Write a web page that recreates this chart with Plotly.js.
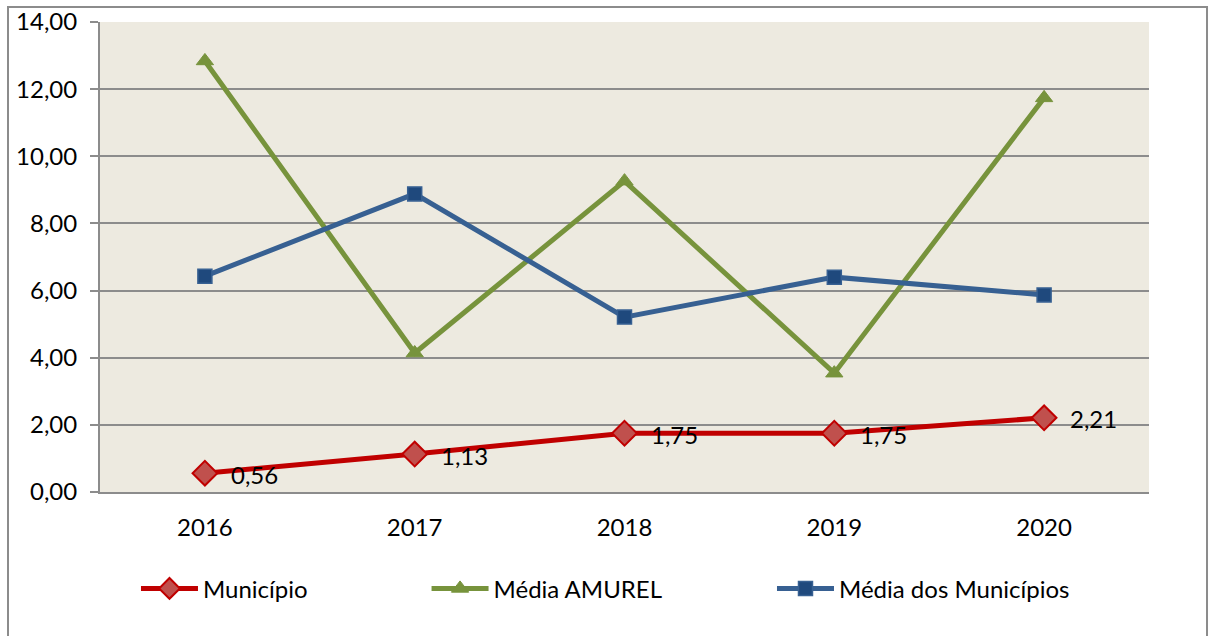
<!DOCTYPE html>
<html><head><meta charset="utf-8">
<script src="https://cdn.plot.ly/plotly-3.0.1.min.js"></script>
<style>html,body{margin:0;padding:0;background:#fff}#chart{width:1214px;height:636px}</style>
</head><body><div id="chart"></div>
<script>
const years = ['2016','2017','2018','2019','2020'];
const municipio = [0.56, 1.13, 1.75, 1.75, 2.21];
const mediaAmurel = [12.84, 4.14, 9.26, 3.54, 11.74];
const mediaMunicipios = [6.43, 8.88, 5.21, 6.40, 5.87];
const seriesNames = ['Município', 'Média AMUREL', 'Média dos Municípios'];
const yTicks = [0, 2, 4, 6, 8, 10, 12, 14];

const FONT = 'Lato, "Liberation Sans", sans-serif';

const traces = [
  {
    x: years, y: mediaAmurel, name: seriesNames[1], type: 'scatter', mode: 'lines+markers',
    line: {color: '#77933C', width: 5},
    marker: {symbol: 'triangle-up', size: 15, color: '#77933C', line: {color: '#77933C', width: 1}},
    legend: 'legend2', hoverinfo: 'x+y'
  },
  {
    x: years, y: mediaMunicipios, name: seriesNames[2], type: 'scatter', mode: 'lines+markers',
    line: {color: '#376092', width: 5},
    marker: {symbol: 'square', size: 14, color: '#1F497D', line: {color: '#376092', width: 1.5}},
    legend: 'legend3', hoverinfo: 'x+y'
  },
  {
    x: years, y: municipio, name: seriesNames[0], type: 'scatter', mode: 'lines+markers',
    line: {color: '#C00000', width: 5},
    marker: {symbol: 'diamond', size: 19, color: '#C0504D', line: {color: '#C00000', width: 2}},
    legend: 'legend', hoverinfo: 'x+y'
  }
];

// category axis: annotation x uses the category index
const annotations = years.map((yr, i) => ({
  x: i, y: municipio[i], xref: 'x', yref: 'y',
  text: municipio[i].toFixed(2).replace('.', ','),
  showarrow: false, xanchor: 'left', yanchor: 'middle',
  xshift: 24, yshift: -1,
  font: {family: FONT, size: 24, color: '#000'}
}));

const legendBase = {
  orientation: 'h', xanchor: 'left', yanchor: 'middle', y: -0.206,
  bgcolor: 'rgba(0,0,0,0)', font: {family: FONT, size: 24, color: '#000'},
  itemwidth: 57
};

const layout = {
  width: 1214, height: 636,
  margin: {l: 100, r: 65, t: 22, b: 144},
  paper_bgcolor: '#ffffff', plot_bgcolor: '#EDEAE0',
  separators: ',.',
  font: {family: FONT, size: 24, color: '#000'},
  xaxis: {
    type: 'category', range: [-0.5, 4.5],
    showgrid: false, zeroline: false,
    showline: true, linecolor: '#8C8C8C', linewidth: 2,
    ticks: '', ticklabelstandoff: 13,
    tickfont: {family: FONT, size: 24, color: '#000'},
    fixedrange: true
  },
  yaxis: {
    range: [0, 14], tickvals: yTicks, tickformat: '.2f',
    showgrid: true, gridcolor: '#8C8C8C', gridwidth: 2,
    zeroline: false,
    showline: true, linecolor: '#8C8C8C', linewidth: 2,
    ticks: 'outside', ticklen: 8, tickcolor: '#8C8C8C', tickwidth: 2,
    ticklabelstandoff: 8,
    tickfont: {family: FONT, size: 24, color: '#000'},
    fixedrange: true
  },
  showlegend: true,
  legend: Object.assign({}, legendBase, {x: 0.0343}),
  legend2: Object.assign({}, legendBase, {x: 0.3113}),
  legend3: Object.assign({}, legendBase, {x: 0.6406}),
  annotations: annotations,
  shapes: [
    {type: 'rect', xref: 'paper', yref: 'paper', x0: -0.0877, x1: 1.0553, y0: -0.33, y1: 1.0319,
     line: {color: '#8C8C8C', width: 2}, fillcolor: 'rgba(0,0,0,0)', layer: 'below'}
  ]
};

Plotly.newPlot('chart', traces, layout, {displayModeBar: false, staticPlot: true});
</script></body></html>
